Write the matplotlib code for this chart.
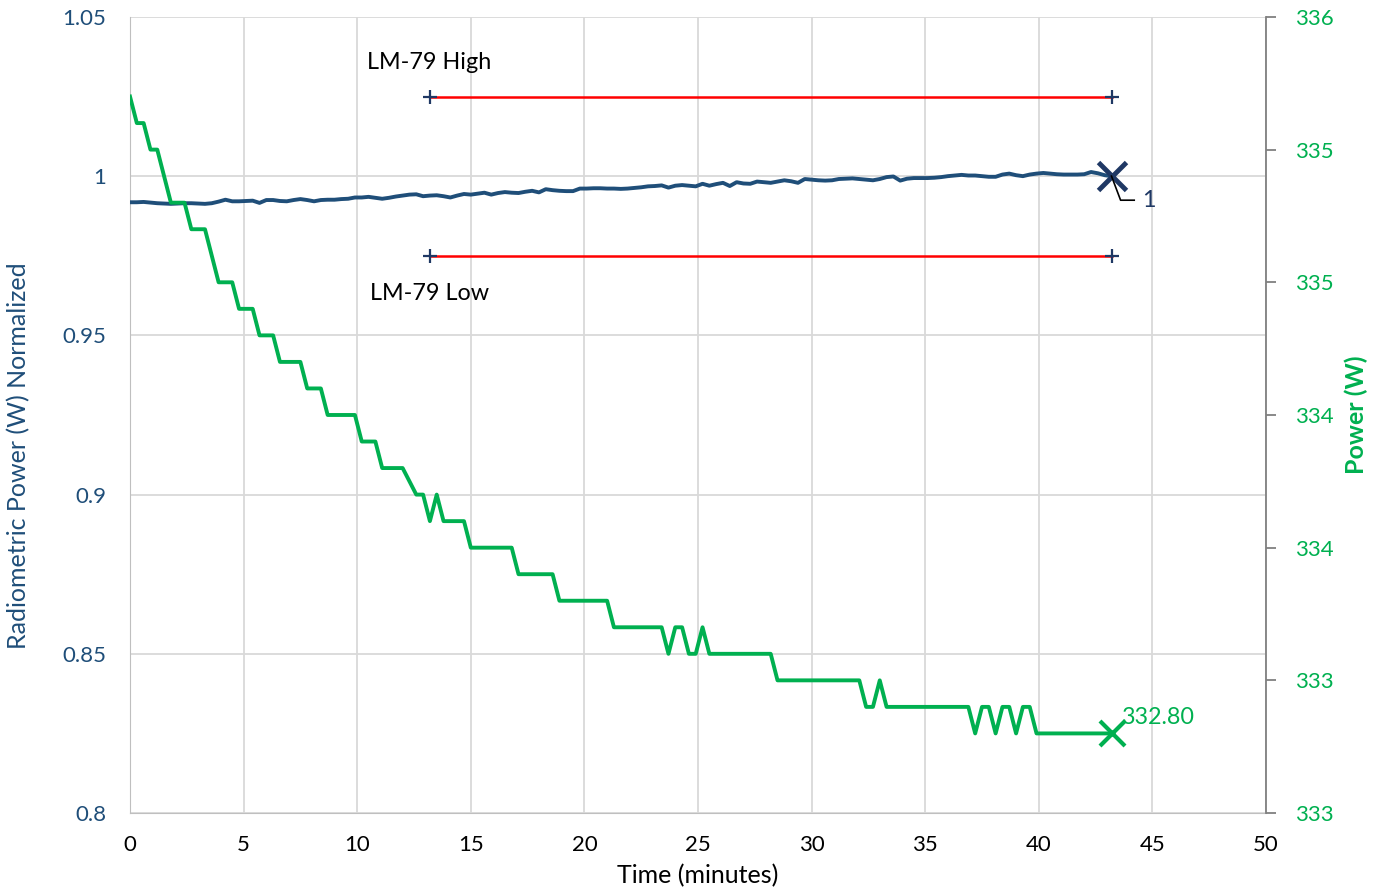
import numpy as np
import matplotlib
matplotlib.use("Agg")
import matplotlib.pyplot as plt
from matplotlib.ticker import FuncFormatter, MultipleLocator

plt.rcParams["font.family"] = ["Lato", "DejaVu Sans"]

# sample interval 0.3 min, 145 samples (0 .. 43.2 min)
DT = 0.3
N = 145

radiometric_norm = [
    0.9918, 0.9918, 0.9919, 0.9917, 0.9915, 0.9914, 0.9913, 0.9914, 0.9915, 0.9915,
    0.9914, 0.9913, 0.9915, 0.9920, 0.9926, 0.9921, 0.9921, 0.9922, 0.9923, 0.9916,
    0.9925, 0.9925, 0.9922, 0.9921, 0.9925, 0.9928, 0.9925, 0.9921, 0.9925, 0.9926,
    0.9926, 0.9928, 0.9929, 0.9933, 0.9933, 0.9935, 0.9932, 0.9929, 0.9932, 0.9936,
    0.9939, 0.9942, 0.9943, 0.9937, 0.9939, 0.9940, 0.9937, 0.9933, 0.9939, 0.9944,
    0.9942, 0.9945, 0.9948, 0.9942, 0.9947, 0.9950, 0.9948, 0.9947, 0.9951, 0.9954,
    0.9949, 0.9959, 0.9956, 0.9954, 0.9953, 0.9953, 0.9961, 0.9961, 0.9962, 0.9962,
    0.9961, 0.9961, 0.9960, 0.9961, 0.9963, 0.9965, 0.9968, 0.9969, 0.9971, 0.9964,
    0.9970, 0.9972, 0.9970, 0.9968, 0.9976, 0.9970, 0.9975, 0.9979, 0.9969, 0.9981,
    0.9977, 0.9976, 0.9983, 0.9981, 0.9979, 0.9983, 0.9987, 0.9984, 0.9979, 0.9991,
    0.9989, 0.9987, 0.9986, 0.9987, 0.9991, 0.9992, 0.9993, 0.9991, 0.9989, 0.9987,
    0.9991, 0.9997, 0.9999, 0.9986, 0.9992, 0.9994, 0.9994, 0.9994, 0.9995, 0.9997,
    1.0000, 1.0002, 1.0004, 1.0002, 1.0002, 1.0000, 0.9998, 0.9998, 1.0005, 1.0008,
    1.0003, 1.0000, 1.0005, 1.0008, 1.0010, 1.0008, 1.0006, 1.0005, 1.0005, 1.0005,
    1.0006, 1.0013, 1.0009, 1.0003, 1.0000,
]

power_w = (
    [335.2, 335.1, 335.1, 335.0, 335.0, 334.9, 334.8, 334.8, 334.8, 334.7,
     334.7, 334.7, 334.6, 334.5, 334.5, 334.5, 334.4, 334.4, 334.4, 334.3,
     334.3, 334.3, 334.2, 334.2, 334.2, 334.2, 334.1, 334.1, 334.1, 334.0,
     334.0, 334.0, 334.0, 334.0, 333.9, 333.9, 333.9, 333.8, 333.8, 333.8,
     333.8, 333.75, 333.7, 333.7, 333.6, 333.7, 333.6, 333.6, 333.6, 333.6,
     333.5, 333.5, 333.5, 333.5, 333.5, 333.5, 333.5, 333.4, 333.4, 333.4,
     333.4, 333.4, 333.4, 333.3, 333.3, 333.3, 333.3, 333.3, 333.3, 333.3,
     333.3, 333.2, 333.2, 333.2, 333.2, 333.2, 333.2, 333.2, 333.2, 333.1,
     333.2, 333.2, 333.1, 333.1, 333.2, 333.1, 333.1, 333.1, 333.1, 333.1,
     333.1, 333.1, 333.1, 333.1, 333.1, 333.0, 333.0, 333.0, 333.0, 333.0,
     333.0, 333.0, 333.0, 333.0, 333.0, 333.0, 333.0, 333.0, 332.9, 332.9,
     333.0, 332.9, 332.9, 332.9, 332.9, 332.9, 332.9, 332.9, 332.9, 332.9,
     332.9, 332.9, 332.9, 332.9, 332.8, 332.9, 332.9, 332.8, 332.9, 332.9,
     332.8, 332.9, 332.9, 332.8, 332.8, 332.8, 332.8, 332.8, 332.8, 332.8,
     332.8, 332.8, 332.8, 332.8, 332.8]
)

limit_x = [13.2, 43.2]
limit_high = [1.025, 1.025]
limit_low = [0.975, 0.975]

time_min = np.arange(N) * DT

BLUE = "#1f4e79"
NAVY = "#1f3864"
GREEN = "#00b050"
RED = "#ff0000"
GRID = "#d9d9d9"

TICK_FS = 16
TEXT_FS = 16.8
LABEL_FS = 18

fig = plt.figure(figsize=(13.83, 8.91), dpi=100)
ax = fig.add_axes([0.094, 0.0875, 0.8214, 0.8935])
ax2 = ax.twinx()

ax.set_xlim(0, 50)
ax.set_ylim(0.8, 1.05)
ax.xaxis.set_major_locator(MultipleLocator(5))
ax.yaxis.set_major_locator(MultipleLocator(0.05))
ax.yaxis.set_major_formatter(FuncFormatter(lambda v, p: f"{v:.2f}".rstrip("0").rstrip(".")))
ax.grid(True, color=GRID, linewidth=1.3)
ax.set_axisbelow(True)
for s in ("top", "right"):
    ax.spines[s].set_visible(False)
ax.spines["left"].set_color("#bfbfbf")
ax.spines["bottom"].set_color("#bfbfbf")
ax.tick_params(axis="y", length=0, pad=17, labelsize=TICK_FS, labelcolor=BLUE)
ax.tick_params(axis="x", length=0, pad=16, labelsize=TICK_FS, labelcolor="black")
ax.set_xlabel("Time (minutes)", fontsize=LABEL_FS, labelpad=6)
ax.set_ylabel("Radiometric Power (W) Normalized", fontsize=LABEL_FS, color=BLUE)
ax.yaxis.set_label_coords(-0.088, 0.4485)

# limit lines
ax.plot(limit_x, limit_high, color=RED, linewidth=1.8, zorder=3)
ax.plot(limit_x, limit_low, color=RED, linewidth=1.8, zorder=3)
ax.plot(limit_x, limit_high, linestyle="none", marker="+", markersize=10,
        markeredgewidth=1.6, color=NAVY, zorder=4)
ax.plot(limit_x, limit_low, linestyle="none", marker="+", markersize=10,
        markeredgewidth=1.6, color=NAVY, zorder=4)
ax.text(10.45, 1.0356, "LM-79 High", fontsize=TEXT_FS, va="center", ha="left")
ax.text(10.55, 0.9633, "LM-79 Low", fontsize=TEXT_FS, va="center", ha="left")

# radiometric (normalized)
ax.plot(time_min, radiometric_norm, color=BLUE, linewidth=2.8, zorder=5)
ax.plot(time_min[-1], radiometric_norm[-1], marker="x", markersize=20,
        markeredgewidth=3.5, color=NAVY, zorder=6)
ax.plot([time_min[-1], time_min[-1] + 0.4, time_min[-1] + 1.0],
        [radiometric_norm[-1], 0.99245, 0.99245], color="black", linewidth=1.2, zorder=6)
ax.text(time_min[-1] + 1.35, 0.9924, f"{radiometric_norm[-1]:g}", fontsize=TEXT_FS,
        color=NAVY, va="center", ha="left")

# electrical power
ax2.set_ylim(332.5, 335.5)
ax2.yaxis.set_major_locator(MultipleLocator(0.5))
ax2.yaxis.set_major_formatter(FuncFormatter(lambda v, p: f"{int(np.floor(v + 0.5))}"))
ax2.plot(time_min, power_w, color=GREEN, linewidth=2.8, zorder=5)
ax2.plot(time_min[-1], power_w[-1], marker="x", markersize=18,
         markeredgewidth=3, color=GREEN, zorder=6)
ax2.text(time_min[-1] + 0.45, power_w[-1] + 0.02, f"{power_w[-1]:.2f}", fontsize=TEXT_FS,
         color=GREEN, va="bottom", ha="left")
for s in ("top", "left", "bottom"):
    ax2.spines[s].set_visible(False)
ax2.spines["right"].set_color("#808080")
ax2.spines["right"].set_linewidth(1.3)
ax2.tick_params(axis="y", length=7, width=1.3, color="#808080", pad=14,
                labelsize=TICK_FS, labelcolor=GREEN)
ax2.set_ylabel("Power (W)", fontsize=LABEL_FS, color=GREEN, fontweight="bold", labelpad=8)

fig.savefig("out.png", dpi=100)
